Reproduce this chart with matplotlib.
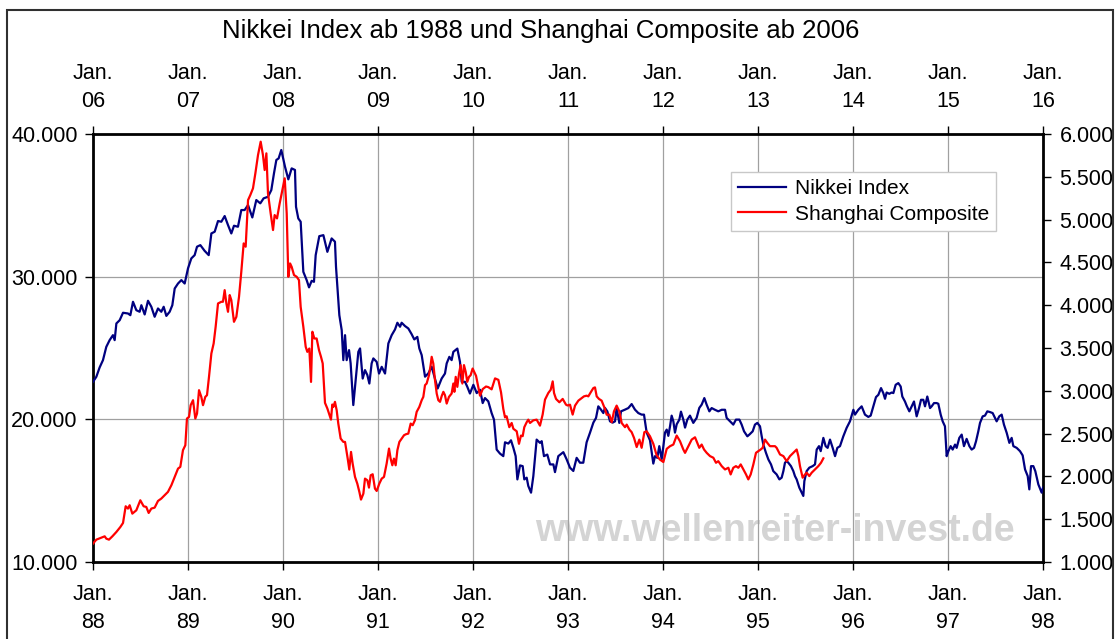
import numpy as np
import matplotlib
matplotlib.use('Agg')
import matplotlib.pyplot as plt
from matplotlib.ticker import FuncFormatter
from matplotlib.patches import Rectangle

plt.rcParams['font.family'] = ['Liberation Sans', 'DejaVu Sans']

# (Jahre seit Jan. 1988, Indexstand)
nikkei_1988_89 = [
    (0.000, 22630), (0.035, 22980), (0.070, 23640), (0.105, 24150), (0.140, 25080), (0.175, 25550),
    (0.210, 25900), (0.228, 25550), (0.246, 26720), (0.281, 26950), (0.316, 27470), (0.368, 27420),
    (0.393, 27300), (0.421, 28240), (0.456, 27650), (0.491, 27540), (0.509, 28000), (0.544, 27350),
    (0.579, 28310), (0.614, 27890), (0.649, 27190), (0.684, 27770), (0.719, 27540), (0.744, 27890),
    (0.772, 27250), (0.807, 27540), (0.835, 28000), (0.860, 29170), (0.895, 29520), (0.930, 29760),
    (0.965, 29520), (1.000, 30580), (1.035, 31280), (1.070, 31510), (1.095, 32100), (1.130, 32210),
    (1.175, 31810), (1.218, 31510), (1.246, 33030), (1.281, 33150), (1.316, 33900), (1.351, 33850),
    (1.386, 34250), (1.421, 33620), (1.456, 33030), (1.484, 33570), (1.526, 33500), (1.561, 34670),
    (1.596, 34670), (1.632, 35020), (1.677, 34150), (1.719, 35370), (1.761, 35140), (1.796, 35490),
    (1.842, 35600), (1.877, 36070), (1.905, 37240), (1.930, 38180), (1.954, 38290), (1.982, 38880),
]
nikkei_1990_91 = [
    (2.021, 37710), (2.056, 36820), (2.091, 37590), (2.126, 37480), (2.137, 34900), (2.161, 34080),
    (2.186, 33850), (2.214, 30340), (2.249, 29760), (2.274, 29250), (2.302, 29710), (2.326, 29640),
    (2.344, 31510), (2.382, 32840), (2.425, 32910), (2.467, 31740), (2.512, 32680), (2.547, 32450),
    (2.558, 30690), (2.593, 27300), (2.618, 26250), (2.635, 24150), (2.653, 25900), (2.670, 24150),
    (2.695, 24850), (2.712, 23920), (2.740, 21000), (2.768, 22990), (2.793, 24730), (2.811, 24970),
    (2.839, 22860), (2.863, 23450), (2.888, 23100), (2.909, 22510), (2.933, 23920), (2.951, 24270),
    (2.986, 24030), (3.011, 23210), (3.039, 23680), (3.074, 23210), (3.109, 25320), (3.144, 25900),
    (3.179, 26300), (3.204, 26770), (3.232, 26490), (3.249, 26770), (3.284, 26540), (3.319, 26370),
    (3.354, 25970), (3.382, 25600), (3.414, 25780), (3.435, 24970), (3.460, 24500), (3.495, 22990),
    (3.530, 23220), (3.565, 23690), (3.589, 23100), (3.628, 22160), (3.670, 22860), (3.705, 23210),
    (3.723, 23920), (3.751, 24380), (3.775, 24150), (3.793, 24730), (3.835, 24960), (3.863, 24030),
    (3.881, 22630), (3.916, 22630), (3.940, 22280), (3.968, 21810),
]
nikkei_1992_93 = [
    (4.004, 22420), (4.039, 21840), (4.074, 22070), (4.102, 21140), (4.126, 21490), (4.161, 21260),
    (4.196, 20440), (4.221, 19980), (4.249, 17880), (4.284, 17600), (4.319, 17420), (4.337, 18390),
    (4.372, 18300), (4.400, 18530), (4.425, 18000), (4.449, 17420), (4.467, 15790), (4.495, 16770),
    (4.523, 16720), (4.540, 15790), (4.565, 15910), (4.582, 15330), (4.611, 14860), (4.635, 16020),
    (4.670, 18580), (4.705, 18350), (4.723, 18470), (4.747, 17420), (4.782, 17530), (4.811, 16840),
    (4.846, 16840), (4.863, 16300), (4.898, 17420), (4.951, 17700), (4.986, 17190), (5.021, 16610),
    (5.056, 16380), (5.091, 17300), (5.126, 16960), (5.161, 16960), (5.196, 18390), (5.232, 19070),
    (5.267, 19770), (5.295, 20100), (5.319, 20910), (5.347, 20680), (5.372, 20440), (5.389, 20800),
    (5.414, 20560), (5.442, 19860), (5.470, 19770), (5.495, 19860), (5.512, 20800), (5.540, 19750),
    (5.558, 20560), (5.600, 20680), (5.635, 20790), (5.670, 21070), (5.705, 20680), (5.740, 20440),
    (5.775, 20330), (5.800, 20330), (5.828, 19070), (5.863, 18530), (5.898, 16900), (5.916, 17420),
    (5.940, 17300), (5.961, 18120), (5.986, 17210),
]
nikkei_1994_95 = [
    (6.004, 18120), (6.021, 19070), (6.039, 19280), (6.056, 18840), (6.074, 19510), (6.091, 20260),
    (6.109, 19860), (6.126, 19070), (6.144, 19650), (6.172, 19980), (6.189, 20540), (6.214, 19980),
    (6.232, 19420), (6.256, 19980), (6.284, 20260), (6.319, 19750), (6.354, 20100), (6.382, 20800),
    (6.407, 21030), (6.435, 21490), (6.460, 21020), (6.488, 20560), (6.512, 20790), (6.547, 20670),
    (6.582, 20560), (6.618, 20670), (6.653, 20670), (6.670, 20100), (6.705, 19860), (6.740, 19630),
    (6.768, 19980), (6.804, 19980), (6.828, 19630), (6.853, 19160), (6.888, 18810), (6.909, 18930),
    (6.944, 19160), (6.968, 19630), (6.993, 19750), (7.021, 19510), (7.039, 18810), (7.056, 18230),
    (7.084, 17650), (7.109, 17190), (7.137, 16840), (7.161, 16370), (7.196, 16140), (7.225, 15790),
    (7.249, 15910), (7.267, 16370), (7.284, 16960), (7.302, 17070), (7.319, 16960), (7.347, 16720),
    (7.372, 16370), (7.389, 16020), (7.407, 15790), (7.435, 15210), (7.460, 14860), (7.477, 14630),
    (7.488, 15670), (7.512, 16370), (7.540, 16610), (7.575, 16720), (7.600, 16840), (7.618, 17880),
    (7.642, 18120), (7.660, 17770), (7.688, 18700), (7.712, 18120), (7.733, 18000), (7.758, 18580),
    (7.786, 18000), (7.811, 17420), (7.835, 18000), (7.863, 18120), (7.898, 18810), (7.933, 19400),
    (7.968, 19860),
]
nikkei_1996_97 = [
    (8.004, 20670), (8.021, 20330), (8.056, 20670), (8.091, 20910), (8.126, 20330), (8.161, 20170),
    (8.186, 20260), (8.214, 20910), (8.242, 21560), (8.267, 21720), (8.295, 22190), (8.319, 21840),
    (8.337, 21440), (8.354, 21880), (8.382, 21790), (8.407, 21880), (8.425, 21840), (8.449, 22420),
    (8.477, 22540), (8.502, 22300), (8.519, 21600), (8.547, 21250), (8.565, 20950), (8.593, 20560),
    (8.618, 20910), (8.642, 21250), (8.670, 20210), (8.695, 20790), (8.716, 21370), (8.740, 21370),
    (8.758, 20910), (8.782, 21600), (8.811, 20790), (8.828, 20910), (8.853, 21140), (8.881, 21140),
    (8.898, 21090), (8.923, 20330), (8.944, 19860), (8.968, 19510), (8.986, 17420), (9.004, 17770),
    (9.028, 18120), (9.049, 17880), (9.074, 18230), (9.091, 18000), (9.119, 18700), (9.144, 18930),
    (9.168, 18120), (9.196, 18630), (9.225, 18120), (9.249, 17880), (9.274, 18000), (9.295, 18460),
    (9.319, 19160), (9.337, 19750), (9.365, 20210), (9.389, 20260), (9.414, 20560), (9.442, 20510),
    (9.470, 20440), (9.495, 20100), (9.512, 19860), (9.540, 20210), (9.565, 20330), (9.589, 19630),
    (9.618, 19050), (9.646, 18350), (9.670, 18700), (9.688, 18120), (9.723, 18000), (9.758, 17770),
    (9.786, 17470), (9.811, 16490), (9.839, 16020), (9.856, 15090), (9.874, 16720), (9.898, 16720),
    (9.919, 16370), (9.951, 15440), (9.986, 14860), (10.000, 15210),
]

# (Jahre seit Jan. 2006, Indexstand)
shanghai_2006_07 = [
    (0.000, 1215), (0.035, 1261), (0.088, 1285), (0.123, 1300), (0.140, 1273), (0.168, 1261),
    (0.204, 1300), (0.246, 1351), (0.288, 1409), (0.316, 1456), (0.344, 1651), (0.368, 1624),
    (0.386, 1663), (0.414, 1565), (0.456, 1604), (0.498, 1721), (0.533, 1651), (0.561, 1643),
    (0.586, 1573), (0.614, 1624), (0.649, 1635), (0.684, 1713), (0.719, 1741), (0.754, 1780),
    (0.789, 1819), (0.825, 1897), (0.860, 1994), (0.895, 2091), (0.919, 2111), (0.947, 2306),
    (0.972, 2364), (0.989, 2676), (1.011, 2695), (1.028, 2832), (1.053, 2890), (1.077, 2676),
    (1.095, 2734), (1.116, 3007), (1.140, 2929), (1.158, 2832), (1.182, 2929), (1.200, 2949),
    (1.221, 3163), (1.246, 3436), (1.270, 3553), (1.291, 3748), (1.316, 4020), (1.351, 4040),
    (1.368, 4040), (1.386, 4176), (1.404, 4020), (1.421, 3923), (1.439, 4118), (1.456, 4059),
    (1.484, 3806), (1.509, 3864), (1.537, 4098), (1.561, 4390), (1.586, 4722), (1.607, 4683),
    (1.632, 5228), (1.656, 5287), (1.684, 5365), (1.709, 5540), (1.737, 5754), (1.765, 5910),
    (1.789, 5754), (1.807, 5579), (1.825, 5774), (1.842, 5306), (1.870, 5073), (1.895, 4878),
    (1.912, 5053), (1.937, 5014), (1.965, 5189), (1.993, 5345), (2.018, 5482),
]
shanghai_2008_09 = [
    (2.039, 5073), (2.056, 4332), (2.074, 4488), (2.091, 4449), (2.116, 4352), (2.144, 4332),
    (2.168, 4293), (2.186, 3981), (2.214, 3748), (2.239, 3514), (2.256, 3455), (2.277, 3494),
    (2.295, 3104), (2.309, 3690), (2.330, 3611), (2.354, 3611), (2.379, 3475), (2.400, 3397),
    (2.418, 3319), (2.442, 2859), (2.467, 2793), (2.484, 2734), (2.505, 2664), (2.519, 2840),
    (2.530, 2812), (2.547, 2871), (2.565, 2773), (2.582, 2617), (2.607, 2442), (2.635, 2403),
    (2.653, 2403), (2.681, 2208), (2.698, 2080), (2.716, 2286), (2.733, 2150), (2.758, 1994),
    (2.782, 1916), (2.804, 1818), (2.821, 1729), (2.846, 1799), (2.863, 1974), (2.888, 1955),
    (2.905, 1869), (2.923, 2013), (2.944, 2025), (2.968, 1857), (2.986, 1830), (3.014, 1916),
    (3.039, 1974), (3.063, 1994), (3.091, 2150), (3.116, 2325), (3.133, 2208), (3.151, 2130),
    (3.168, 2208), (3.186, 2130), (3.204, 2306), (3.225, 2403), (3.249, 2442), (3.274, 2481),
    (3.295, 2493), (3.319, 2500), (3.344, 2617), (3.365, 2598), (3.389, 2656), (3.407, 2754),
    (3.435, 2812), (3.460, 2890), (3.477, 2929), (3.495, 3066), (3.512, 3085), (3.537, 3183),
    (3.554, 3300), (3.565, 3397), (3.582, 3319), (3.600, 3124), (3.618, 2968), (3.635, 2890),
    (3.653, 2871), (3.670, 2937), (3.688, 2988), (3.705, 2949), (3.723, 2851), (3.747, 2929),
    (3.775, 2968), (3.793, 3085), (3.804, 2988), (3.818, 3163), (3.835, 3046), (3.853, 3202),
    (3.870, 3300), (3.888, 3085), (3.905, 3300), (3.923, 3221), (3.940, 3105), (3.958, 3163),
    (3.975, 3182), (3.996, 3260),
]
shanghai_2010_11 = [
    (4.032, 3175), (4.056, 3040), (4.074, 2943), (4.102, 3020), (4.137, 3050), (4.161, 3043),
    (4.196, 3017), (4.232, 3145), (4.267, 3128), (4.295, 2982), (4.319, 2788), (4.337, 2690),
    (4.354, 2702), (4.382, 2575), (4.407, 2624), (4.425, 2556), (4.460, 2527), (4.484, 2381),
    (4.505, 2477), (4.523, 2470), (4.540, 2575), (4.565, 2633), (4.582, 2663), (4.600, 2624),
    (4.635, 2655), (4.670, 2663), (4.705, 2593), (4.733, 2722), (4.758, 2897), (4.793, 2975),
    (4.818, 3012), (4.839, 3110), (4.853, 2974), (4.874, 2905), (4.909, 2866), (4.944, 2905),
    (4.979, 2838), (4.996, 2828), (5.021, 2838), (5.049, 2722), (5.074, 2827), (5.109, 2885),
    (5.144, 2915), (5.168, 2935), (5.196, 2943), (5.214, 2935), (5.239, 2982), (5.267, 3032),
    (5.284, 3040), (5.302, 2935), (5.326, 2905), (5.354, 2885), (5.389, 2788), (5.407, 2721),
    (5.435, 2721), (5.460, 2633), (5.484, 2760), (5.512, 2827), (5.540, 2760), (5.565, 2624),
    (5.600, 2575), (5.618, 2605), (5.646, 2547), (5.670, 2517), (5.695, 2450), (5.723, 2343),
    (5.751, 2430), (5.775, 2334), (5.804, 2517), (5.828, 2527), (5.863, 2469), (5.898, 2381),
    (5.933, 2246), (5.968, 2196), (6.004, 2168),
]
shanghai_2012_13 = [
    (6.039, 2322), (6.074, 2353), (6.109, 2372), (6.144, 2477), (6.179, 2411), (6.214, 2314),
    (6.232, 2275), (6.267, 2353), (6.302, 2430), (6.337, 2457), (6.361, 2392), (6.382, 2334),
    (6.407, 2372), (6.432, 2314), (6.460, 2275), (6.495, 2237), (6.530, 2218), (6.558, 2159),
    (6.582, 2178), (6.618, 2120), (6.653, 2081), (6.688, 2101), (6.712, 2023), (6.740, 2101),
    (6.768, 2120), (6.793, 2101), (6.818, 2140), (6.846, 2082), (6.874, 2023), (6.898, 1965),
    (6.923, 2023), (6.951, 2140), (6.979, 2276), (7.004, 2295), (7.028, 2314), (7.049, 2334),
    (7.074, 2430), (7.098, 2392), (7.126, 2353), (7.154, 2353), (7.179, 2353), (7.196, 2334),
    (7.232, 2256), (7.267, 2237), (7.302, 2178), (7.337, 2237), (7.372, 2276), (7.407, 2314),
    (7.425, 2237), (7.442, 2120), (7.470, 1985), (7.495, 2023), (7.512, 2043), (7.540, 2004),
    (7.565, 2043), (7.600, 2082), (7.635, 2120), (7.663, 2159), (7.688, 2211),
]

nikkei_jahre = list(range(1988, 1999))
shanghai_jahre = list(range(2006, 2017))
nikkei_ticks = [10000, 20000, 30000, 40000]
shanghai_ticks = list(range(1000, 6001, 500))

nikkei = nikkei_1988_89 + nikkei_1990_91 + nikkei_1992_93 + nikkei_1994_95 + nikkei_1996_97
shanghai = shanghai_2006_07 + shanghai_2008_09 + shanghai_2010_11 + shanghai_2012_13
nik_x = 1988 + np.array([t for t, v in nikkei])
nik_y = np.array([v for t, v in nikkei])
sh_x = 2006 + np.array([t for t, v in shanghai])
sh_y = np.array([v for t, v in shanghai])


def punkt(v, pos):
    return f'{v:,.0f}'.replace(',', '.')


fig = plt.figure(figsize=(11.2, 6.39), dpi=100)
rect = [93 / 1120, 77 / 639, 950 / 1120, 428 / 639]
ax = fig.add_axes(rect)
ax2 = fig.add_axes(rect, label='shanghai')
ax2.patch.set_visible(False)

l1, = ax.plot(nik_x, nik_y, color='#000080', lw=1.6, label='Nikkei Index', zorder=3)
l2, = ax2.plot(sh_x, sh_y, color='#ff0000', lw=1.6, label='Shanghai Composite', zorder=3)

ax.set_xlim(1988, 1998)
ax.set_ylim(10000, 40000)
ax2.set_xlim(2006, 2016)
ax2.set_ylim(1000, 6000)

ax.set_xticks(nikkei_jahre)
ax.set_xticklabels([f'Jan.\n{j % 100:02d}' for j in nikkei_jahre], linespacing=1.45)
ax.set_yticks(nikkei_ticks)
ax.yaxis.set_major_formatter(FuncFormatter(punkt))
ax.grid(True, color='#a0a0a0', lw=0.9)
ax.tick_params(axis='both', direction='out', length=6, width=1, labelsize=15.5)
ax.tick_params(axis='x', pad=10)
ax.tick_params(axis='y', pad=5)
for s in ax.spines.values():
    s.set_linewidth(2)

ax2.xaxis.tick_top()
ax2.yaxis.tick_right()
ax2.set_xticks(shanghai_jahre)
ax2.set_xticklabels([f'Jan.\n{j % 100:02d}' for j in shanghai_jahre], linespacing=1.45)
ax2.set_yticks(shanghai_ticks)
ax2.yaxis.set_major_formatter(FuncFormatter(punkt))
ax2.tick_params(axis='both', direction='out', length=6, width=1, labelsize=15.5)
ax2.tick_params(axis='x', pad=10)
ax2.tick_params(axis='y', pad=6)
for s in ax2.spines.values():
    s.set_visible(False)

ax.text(775 / 1120, 1 - 531 / 639, 'www.wellenreiter-invest.de', transform=fig.transFigure,
        fontsize=27, fontweight='bold', color='#d4d4d4', ha='center', va='center', zorder=1)

leg = ax2.legend([l1, l2], ['Nikkei Index', 'Shanghai Composite'], loc='upper left',
                 bbox_to_anchor=(731 / 1120, 1 - 172 / 639), bbox_transform=fig.transFigure,
                 borderaxespad=0, fontsize=15, handlelength=2.3, handletextpad=0.4,
                 borderpad=0.35, labelspacing=0.3, fancybox=False, framealpha=1,
                 edgecolor='#c8c8c8')
leg.get_frame().set_linewidth(1)

fig.text(541 / 1120, 1 - 31 / 639, 'Nikkei Index ab 1988 und Shanghai Composite ab 2006',
         fontsize=18.5, ha='center', va='center')

fig.add_artist(Rectangle((7 / 1120, -0.02), 1106 / 1120, 1.0036, transform=fig.transFigure,
                         fill=False, edgecolor='#303030', lw=1.5))

fig.savefig('out.png', dpi=100)
